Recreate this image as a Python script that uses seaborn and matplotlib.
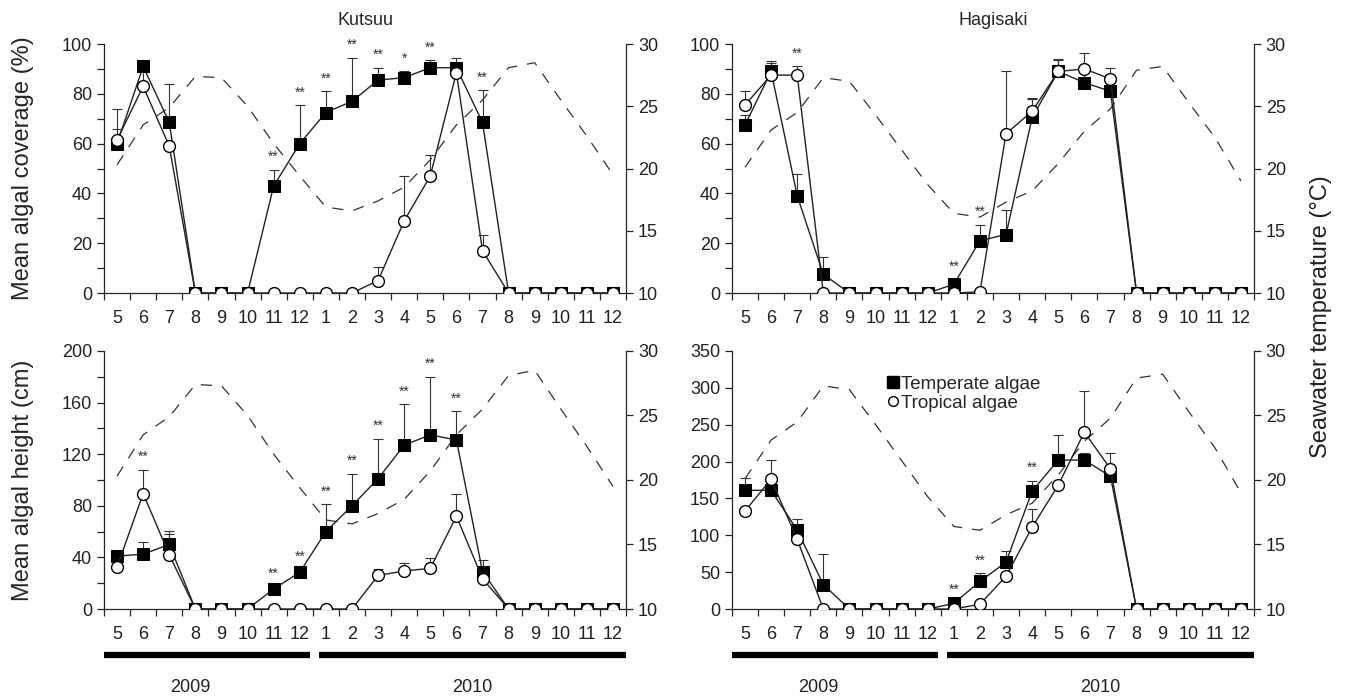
import matplotlib
matplotlib.use('Agg')
import matplotlib.pyplot as plt
from matplotlib.lines import Line2D
import numpy as np
import seaborn as sns

months = [5, 6, 7, 8, 9, 10, 11, 12, 1, 2, 3, 4, 5, 6, 7, 8, 9, 10, 11, 12]
years = ['2009', '2010']
year_spans = [(-0.5, 7.4), (7.75, 19.5)]
year_label_x = [2.8, 13.6]

# seawater temperature (right axis)
temp_kutsuu = [20.3, 23.5, 24.9, 27.4, 27.3, 25.0, 22.0, 19.4, 16.9, 16.6,
               17.4, 18.5, 20.7, 23.5, 25.5, 28.1, 28.5, 25.5, 22.6, 19.5]
temp_hagisaki = [20.1, 23.1, 24.5, 27.3, 27.0, 24.3, 21.5, 18.7, 16.4, 16.1,
                 17.3, 18.2, 20.4, 23.0, 24.8, 27.9, 28.2, 25.3, 22.5, 19.0]

# Kutsuu coverage (%)
cov_k_temp = [60, 91, 68.5, 0, 0, 0, 43, 60, 72.5, 77, 85.5, 86.5, 90.5, 90.5, 68.5, 0, 0, 0, 0, 0]
cov_k_temp_se = [6, 2.5, 15.5, 0, 0, 0, 6.5, 15.5, 8.5, 17.5, 5, 2.5, 3, 4, 13, 0, 0, 0, 0, 0]
cov_k_trop = [61.5, 83, 59, 0, 0, 0, 0, 0, 0, 0, 5, 29, 47, 88.5, 17, 0, 0, 0, 0, 0]
cov_k_trop_se = [12.5, 9, 0, 0, 0, 0, 0, 0, 0, 0, 5.5, 18, 8.5, 3, 6.5, 0, 0, 0, 0, 0]
cov_k_sig = ['', '', '', '', '', '', '**', '**', '**', '**', '**', '*', '**', '', '**', '', '', '', '', '']

# Hagisaki coverage (%)
cov_h_temp = [67.5, 89, 39, 7.5, 0, 0, 0, 0, 3.5, 21, 23.5, 70.5, 89, 84.5, 81, 0, 0, 0, 0, 0]
cov_h_temp_se = [4, 4, 9, 7, 0, 0, 0, 0, 2, 6.5, 10, 8, 5, 5, 6.5, 0, 0, 0, 0, 0]
cov_h_trop = [75.5, 87.5, 87.5, 0, 0, 0, 0, 0, 0, 0.5, 64, 73, 89, 90, 86, 0, 0, 0, 0, 0]
cov_h_trop_se = [5.5, 5, 3.5, 0, 0, 0, 0, 0, 0, 0, 25, 5, 4.5, 6.5, 4.5, 0, 0, 0, 0, 0]
cov_h_sig = ['', '', '**', '', '', '', '', '', '**', '**', '', '', '', '', '', '', '', '', '', '']

# Kutsuu height (cm)
ht_k_temp = [41, 42.5, 50, 0, 0, 0, 15.5, 28.5, 60, 80, 101, 127, 135, 131, 29, 0, 0, 0, 0, 0]
ht_k_temp_se = [3, 9.5, 10.5, 0, 0, 0, 2, 2, 21.5, 25, 31, 32, 45, 22.5, 9, 0, 0, 0, 0, 0]
ht_k_trop = [32.5, 89.5, 42, 0, 0, 0, 0, 0, 0, 0, 26, 29.5, 31.5, 72, 23.5, 0, 0, 0, 0, 0]
ht_k_trop_se = [0, 18.5, 16.5, 0, 0, 0, 0, 0, 0, 0, 5, 6, 8, 17, 0, 0, 0, 0, 0, 0]
ht_k_sig = ['', '**', '', '', '', '', '**', '**', '**', '**', '**', '**', '**', '**', '', '', '', '', '', '']

# Hagisaki height (cm)
ht_h_temp = [161, 161, 107, 33, 0, 0, 0, 0, 7.5, 37.5, 63.5, 160, 202, 202, 180, 0, 0, 0, 0, 0]
ht_h_temp_se = [17, 8, 15, 42, 0, 0, 0, 0, 2, 11, 15, 14, 34, 10, 8, 0, 0, 0, 0, 0]
ht_h_trop = [133, 176, 94.5, 0, 0, 0, 0, 0, 0, 6.5, 44.5, 111, 168, 240, 190, 0, 0, 0, 0, 0]
ht_h_trop_se = [0, 26, 0, 0, 0, 0, 0, 0, 0, 0, 0, 24, 0, 56, 22, 0, 0, 0, 0, 0]
ht_h_sig = ['', '', '', '', '', '', '', '', '**', '**', '', '**', '', '', '', '', '', '', '', '']

sns.set_style('ticks')
plt.rcParams['font.family'] = ['Liberation Sans', 'DejaVu Sans']
plt.rcParams['axes.linewidth'] = 0.9
INK = '#222222'

x = np.arange(len(months))
fig = plt.figure(figsize=(13.49, 7.0), dpi=100)

W = 0.387
panels = [
    # left, bottom, height, temperate, se, tropical, se, sig, temp, ylim, major, minor
    (0.0771, 0.5814, 0.3557, cov_k_temp, cov_k_temp_se, cov_k_trop, cov_k_trop_se, cov_k_sig, temp_kutsuu, 100, 20, 10),
    (0.5426, 0.5814, 0.3557, cov_h_temp, cov_h_temp_se, cov_h_trop, cov_h_trop_se, cov_h_sig, temp_hagisaki, 100, 20, 10),
    (0.0771, 0.1300, 0.3686, ht_k_temp, ht_k_temp_se, ht_k_trop, ht_k_trop_se, ht_k_sig, temp_kutsuu, 200, 40, 20),
    (0.5426, 0.1300, 0.3686, ht_h_temp, ht_h_temp_se, ht_h_trop, ht_h_trop_se, ht_h_sig, temp_hagisaki, 350, 50, None),
]

axes = []
for left, bottom, h, tv, tse, pv, pse, sig, temp, ymax, major, minor in panels:
    ax = fig.add_axes([left, bottom, W, h])
    tw = ax.twinx()
    ax.set_zorder(tw.get_zorder() + 1)
    ax.patch.set_visible(False)

    sns.lineplot(x=x, y=temp, ax=tw, color='#333333', linewidth=0.9,
                 linestyle=(0, (9, 8)))
    tw.set_ylim(10, 30)
    tw.set_yticks([10, 15, 20, 25, 30])
    tw.set_xlim(-0.5, 19.5)

    ax.errorbar(x, tv, yerr=[np.zeros(len(x)), tse], fmt='none', ecolor='#333333',
                elinewidth=0.8, capsize=3.5, capthick=0.8, zorder=2)
    ax.errorbar(x, pv, yerr=[np.zeros(len(x)), pse], fmt='none', ecolor='#333333',
                elinewidth=0.8, capsize=3.5, capthick=0.8, zorder=2)
    sns.lineplot(x=x, y=tv, ax=ax, color=INK, linewidth=1.0, marker='s',
                 markersize=8.5, markerfacecolor='black', markeredgecolor='black', zorder=3)
    sns.lineplot(x=x, y=pv, ax=ax, color=INK, linewidth=1.0, marker='o',
                 markersize=8.5, markerfacecolor='white', markeredgecolor='black',
                 markeredgewidth=1.0, zorder=4)

    tops = np.maximum(np.add(tv, tse), np.add(pv, pse))
    for xi, s, top in zip(x, sig, tops):
        if s:
            ax.annotate(s, (xi, top), xytext=(0, 4), textcoords='offset points',
                        ha='center', va='bottom', fontsize=10, color='#333333')

    ax.set_xlim(-0.5, 19.5)
    ax.set_ylim(0, ymax)
    ax.set_yticks(np.arange(0, ymax + 1, major))
    if minor:
        ax.set_yticks(np.arange(minor, ymax, major), minor=True)
    ax.set_xticks(x, [str(m) for m in months])
    ax.set_xticks(np.arange(-0.5, 20, 1), minor=True)
    ax.tick_params(axis='x', which='major', length=0, pad=12, labelsize=13, colors=INK)
    ax.tick_params(axis='x', which='minor', length=5, width=0.9, direction='out')
    ax.tick_params(axis='y', which='both', length=5, width=0.9, labelsize=13, colors=INK)
    tw.tick_params(axis='y', length=5, width=0.9, labelsize=13, colors=INK)
    ax.set_xlabel('')
    ax.set_ylabel('')
    tw.set_ylabel('')
    for a in (ax, tw):
        a.spines['top'].set_visible(False)
    ax.spines['right'].set_visible(False)
    tw.spines['left'].set_visible(False)
    tw.spines['bottom'].set_visible(False)
    axes.append(ax)

axes[0].set_title('Kutsuu', fontsize=13, pad=14)
axes[1].set_title('Hagisaki', fontsize=13, pad=14)
axes[0].set_ylabel('Mean algal coverage (%)', fontsize=17)
axes[2].set_ylabel('Mean algal height (cm)', fontsize=17)
axes[0].yaxis.set_label_coords(-0.135, 0.5)
axes[2].yaxis.set_label_coords(-0.135, 0.5)
fig.text(0.979, 0.547, 'Seawater temperature (°C)', rotation=90, fontsize=17,
         ha='center', va='center', color=INK)

for ax in axes[2:]:
    trans = ax.get_xaxis_transform()
    for yr, (x0, x1), lx in zip(years, year_spans, year_label_x):
        ax.plot([x0, x1], [-0.178, -0.178], color='black', linewidth=4.5,
                solid_capstyle='butt', transform=trans, clip_on=False)
        ax.text(lx, -0.305, yr, transform=trans, ha='center',
                va='center', fontsize=13, color=INK)

handles = [Line2D([], [], marker='s', color='black', linestyle='none', markersize=8),
           Line2D([], [], marker='o', markerfacecolor='white', markeredgecolor='black',
                  linestyle='none', markersize=7)]
axes[3].legend(handles, ['Temperate algae', 'Tropical algae'], loc='upper left',
               bbox_to_anchor=(0.28, 0.94), frameon=False, fontsize=13.5,
               handlelength=0.6, handletextpad=0.1, labelspacing=0.1, borderpad=0)

fig.savefig('out.png', dpi=100)
